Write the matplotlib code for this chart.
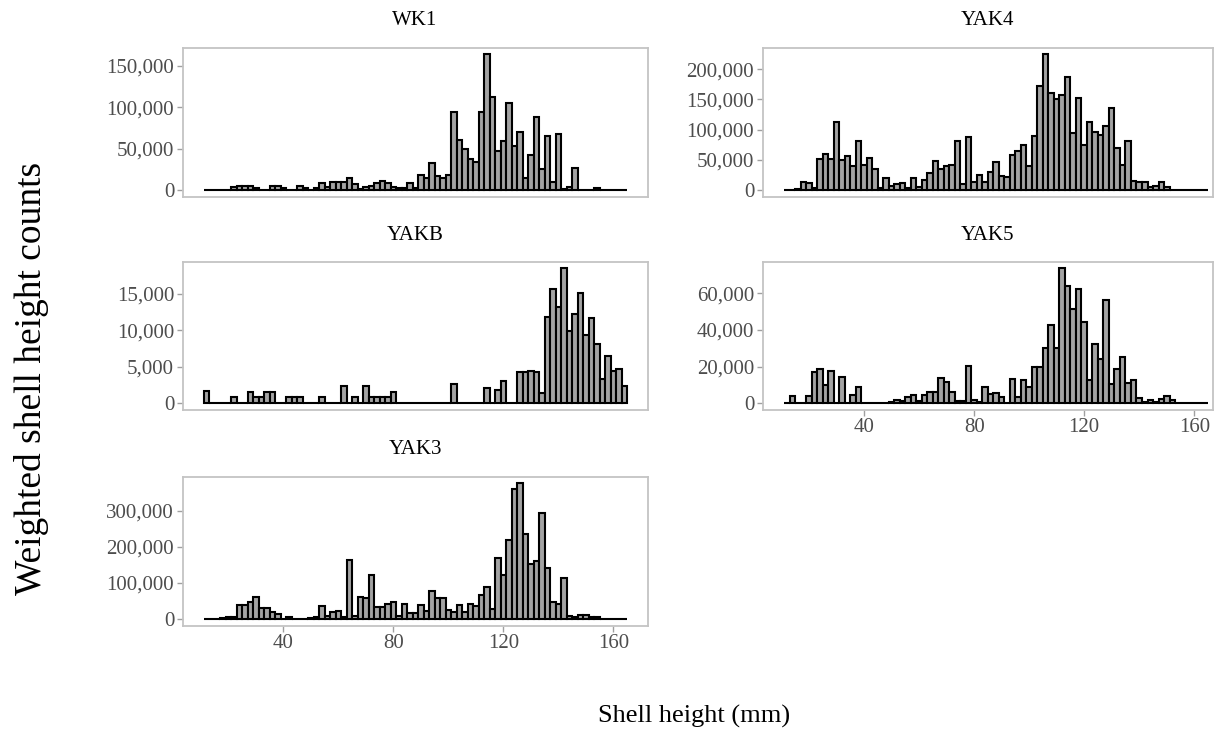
import numpy as np
import matplotlib
matplotlib.use("Agg")
import matplotlib.pyplot as plt

plt.rcParams["font.family"] = ["Liberation Serif", "DejaVu Serif"]

# bin centres (mm), binwidth 2
bin_centres = np.arange(12, 166, 2)
bin_width = 2

wk1 = [0, 0, 0, 0, 0, 3000, 5000, 4500, 5000, 2000,
       0, 0, 4500, 4800, 2000, 0, 0, 4800, 2800, 0,
       2000, 8000, 4000, 9000, 9000, 9000, 14500, 7500, 800, 3200,
       5200, 8000, 11000, 7800, 3500, 1800, 2500, 8500, 2500, 18500,
       14000, 32000, 17000, 15000, 18000, 94000, 61000, 49000, 38000, 34000,
       94000, 164000, 113000, 47000, 59000, 105000, 53000, 70000, 14000, 42000,
       88000, 25000, 65000, 10000, 68000, 1000, 3000, 27000, 0, 0,
       0, 2000, 0, 0, 0, 0, 0]

yak4 = [0, 0, 1600, 13700, 11000, 2700, 51100, 59300, 51100, 112600,
        49500, 56600, 40100, 81300, 41200, 52200, 34600, 2700, 19200, 6000,
        9900, 11000, 2700, 20300, 4400, 17000, 27500, 47300, 34600, 40100,
        41800, 80200, 9900, 87900, 13700, 24700, 13700, 29100, 46700, 23600,
        20900, 57700, 64800, 74700, 40100, 88500, 172000, 224200, 161000, 150000,
        157200, 187400, 94000, 151700, 74700, 112600, 96200, 91200, 105000, 135200,
        69200, 41200, 81300, 15400, 12600, 13700, 4400, 7100, 12600, 4400,
        0, 0, 0, 0, 0, 0, 0]

yakb = [1660, 0, 0, 0, 0, 800, 0, 0, 1600, 800,
        800, 1600, 1600, 0, 0, 800, 800, 800, 0, 0,
        0, 800, 0, 0, 0, 2300, 0, 800, 0, 2300,
        800, 800, 800, 800, 1600, 0, 0, 0, 0, 0,
        0, 0, 0, 0, 0, 2700, 0, 0, 0, 0,
        0, 2100, 0, 1800, 3000, 0, 0, 4250, 4340, 4390,
        4250, 1430, 11870, 15670, 13210, 18450, 9940, 12180, 15090, 9400,
        11640, 8060, 3360, 6400, 4480, 4700, 2370]

yak5 = [0, 4100, 0, 0, 4100, 17000, 18400, 9800, 17700, 0,
        14500, 0, 4650, 9100, 0, 0, 0, 0, 0, 900,
        2000, 1000, 3200, 4650, 1400, 4650, 6400, 6400, 14000, 11600,
        6300, 1400, 1400, 20200, 2000, 500, 8800, 4800, 5400, 3600,
        0, 13100, 3200, 12500, 8600, 19700, 19700, 30100, 42600, 30100,
        73400, 64100, 51200, 62000, 44100, 12500, 32200, 24200, 56100, 10400,
        18400, 25100, 11300, 12900, 2900, 900, 2000, 900, 2300, 3900,
        2000, 0, 0, 0, 0, 0, 0]

yak3 = [0, 0, 0, 2000, 6400, 6000, 38500, 38500, 45900, 59600,
        29400, 29400, 20200, 13800, 1000, 6400, 0, 0, 1000, 2000,
        6400, 36700, 8300, 20200, 22000, 6400, 162400, 8300, 61500, 56900,
        122900, 33900, 33900, 40400, 47700, 8300, 40400, 17400, 17400, 38500,
        22900, 77100, 56900, 56900, 24800, 20200, 38500, 20200, 41300, 36700,
        66100, 87200, 26600, 169700, 122900, 217400, 359600, 375200, 233900, 153200,
        160500, 293600, 142200, 47700, 41300, 114700, 8300, 6400, 11000, 11000,
        6400, 4600, 1000, 0, 0, 0, 0]

panels = [
    ("WK1", wk1, [0, 50000, 100000, 150000]),
    ("YAK4", yak4, [0, 50000, 100000, 150000, 200000]),
    ("YAKB", yakb, [0, 5000, 10000, 15000]),
    ("YAK5", yak5, [0, 20000, 40000, 60000]),
    ("YAK3", yak3, [0, 100000, 200000, 300000]),
]
x_ticks = [40, 80, 120, 160]

W, H = 1217, 732
fig = plt.figure(figsize=(W / 100, H / 100), dpi=100)


def px_rect(x0, y0, x1, y1):
    return [x0 / W, 1 - y1 / H, (x1 - x0) / W, (y1 - y0) / H]


rects = [
    px_rect(182.5, 47.7, 647.5, 196.7),
    px_rect(762.5, 47.7, 1213, 196.7),
    px_rect(182.5, 261.7, 647.5, 410),
    px_rect(762.5, 261.7, 1213, 410),
    px_rect(182.5, 476.7, 647.5, 625.7),
]
xlims = [(3.3, 172.4), (3.1, 166.8), (3.3, 172.4), (3.1, 166.8), (3.3, 172.4)]
bottom_row = [False, False, False, True, True]

tick_grey = "#4d4d4d"
for (name, vals, yt), rect, xl, show_x in zip(panels, rects, xlims, bottom_row):
    ax = fig.add_axes(rect)
    ax.bar(bin_centres, vals, width=bin_width, color="#a3a3a3",
           edgecolor="black", linewidth=1.5, zorder=3)
    vmax = max(vals)
    ax.set_ylim(-0.05 * vmax, 1.05 * vmax)
    ax.set_xlim(*xl)
    ax.set_yticks(yt)
    ax.set_yticklabels([f"{v:,}" for v in yt], fontsize=15, color=tick_grey)
    if show_x:
        ax.set_xticks(x_ticks)
        ax.set_xticklabels([str(v) for v in x_ticks], fontsize=15, color=tick_grey)
    else:
        ax.set_xticks([])
    ax.tick_params(axis="both", length=4, width=1, color="#a0a0a0", pad=2)
    for sp in ax.spines.values():
        sp.set_color("#c4c4c4")
        sp.set_linewidth(1.3)
    ax.text(0.5, 1.18, name, transform=ax.transAxes, ha="center", va="center",
            fontsize=15, color="black")

fig.text(694 / W, 1 - 716 / H, "Shell height (mm)", ha="center", va="center",
         fontsize=19, color="black")
fig.text(32 / W, 1 - 378 / H, "Weighted shell height counts", ha="center",
         va="center", rotation=90, fontsize=27, color="black")

fig.savefig("out.png", dpi=100)
